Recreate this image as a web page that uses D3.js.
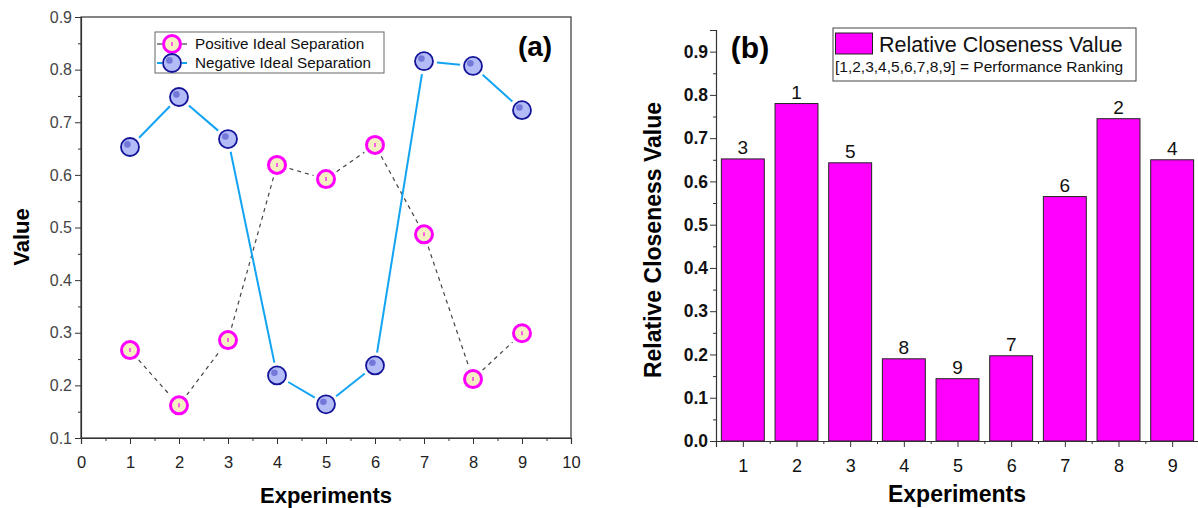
<!DOCTYPE html>
<html><head><meta charset="utf-8">
<script src="https://cdn.jsdelivr.net/npm/d3@7"></script>
<style>
body{margin:0;background:#fff;}
svg{display:block;font-family:"Liberation Sans",Arial,sans-serif;}
</style></head>
<body><svg id="c" width="1198" height="508"></svg>
<script>
// ---- data ----
const experiments = [1,2,3,4,5,6,7,8,9];
const positiveSep = [0.267,0.162,0.286,0.619,0.592,0.657,0.487,0.212,0.299];
const negativeSep = [0.653,0.748,0.668,0.219,0.164,0.238,0.816,0.807,0.723];
const closeness = [0.652,0.780,0.643,0.190,0.144,0.197,0.565,0.745,0.650];
const ranking = [3,1,5,8,9,7,6,2,4];
const xTicksA = [0,1,2,3,4,5,6,7,8,9,10];
const yTicksA = [0.1,0.2,0.3,0.4,0.5,0.6,0.7,0.8,0.9];
const yTicksB = [0,0.1,0.2,0.3,0.4,0.5,0.6,0.7,0.8,0.9];

const svg = d3.select("#c");
const FF = "Liberation Sans, Arial, sans-serif";

// ================= Panel (a) =================
const A = {l:81, r:571, t:17, b:438};
const xa = d3.scaleLinear().domain([0,10]).range([A.l,A.r]);
const ya = d3.scaleLinear().domain([0.1,0.9]).range([A.b,A.t]);
const ga = svg.append("g");

ga.append("rect").attr("x",A.l).attr("y",A.t).attr("width",A.r-A.l).attr("height",A.b-A.t)
  .attr("fill","none").attr("stroke","#333").attr("stroke-width",1.2);

const xaxA = ga.append("g").attr("transform",`translate(0,${A.b})`)
  .call(d3.axisBottom(xa).tickValues(xTicksA).tickSize(6).tickPadding(12).tickFormat(d3.format("d")));
ga.append("g").attr("transform",`translate(0,${A.b})`)
  .call(d3.axisBottom(xa).tickValues(d3.range(0.5,10,1)).tickSize(3).tickFormat(""))
  .call(g=>g.select(".domain").remove());
const yaxA = ga.append("g").attr("transform",`translate(${A.l},0)`)
  .call(d3.axisLeft(ya).tickValues(yTicksA).tickSize(6).tickPadding(3).tickFormat(d3.format(".1f")));
ga.append("g").attr("transform",`translate(${A.l},0)`)
  .call(d3.axisLeft(ya).tickValues(d3.range(0.15,0.9,0.1)).tickSize(3).tickFormat(""))
  .call(g=>g.select(".domain").remove());
ga.selectAll(".domain").attr("stroke","#333").attr("stroke-width",1.2);
ga.selectAll(".tick line").attr("stroke","#333");
xaxA.selectAll("text").attr("font-size",16.5).attr("fill","#222").attr("font-family",FF);
yaxA.selectAll("text").attr("font-size",16).attr("fill","#444").attr("font-family",FF);

function gappedSegments(xs, ys, gap){
  const segs=[];
  for(let i=0;i<xs.length-1;i++){
    const x1=xs[i],y1=ys[i],x2=xs[i+1],y2=ys[i+1];
    const dx=x2-x1,dy=y2-y1,len=Math.hypot(dx,dy);
    if(len<=2*gap) continue;
    const ux=dx/len,uy=dy/len;
    segs.push([x1+ux*gap,y1+uy*gap,x2-ux*gap,y2-uy*gap]);
  }
  return segs;
}
const px = experiments.map(d=>xa(d));
ga.append("g").selectAll("line").data(gappedSegments(px, positiveSep.map(v=>ya(v)), 13)).join("line")
  .attr("x1",d=>d[0]).attr("y1",d=>d[1]).attr("x2",d=>d[2]).attr("y2",d=>d[3])
  .attr("stroke","#444").attr("stroke-width",1.2).attr("stroke-dasharray","4,4");
ga.append("g").selectAll("line").data(gappedSegments(px, negativeSep.map(v=>ya(v)), 13)).join("line")
  .attr("x1",d=>d[0]).attr("y1",d=>d[1]).attr("x2",d=>d[2]).attr("y2",d=>d[3])
  .attr("stroke","#12a4f2").attr("stroke-width",2);

function posMarker(g,x,y){
  g.append("circle").attr("cx",x).attr("cy",y).attr("r",8.5).attr("fill","#f5f0c2")
    .attr("stroke","#ff00ff").attr("stroke-width",3);
  g.append("line").attr("x1",x).attr("x2",x).attr("y1",y-2).attr("y2",y+2)
    .attr("stroke","#ff00ff").attr("stroke-width",1.2);
}
function negMarker(g,x,y){
  g.append("circle").attr("cx",x).attr("cy",y).attr("r",9).attr("fill","#b4bcf8")
    .attr("stroke","#14149a").attr("stroke-width",1.8);
  g.append("circle").attr("cx",x-2.6).attr("cy",y-2.6).attr("r",3.3).attr("fill","#7478d8");
}
const gm = ga.append("g");
experiments.forEach((e,i)=>posMarker(gm, xa(e), ya(positiveSep[i])));
experiments.forEach((e,i)=>negMarker(gm, xa(e), ya(negativeSep[i])));

const la = ga.append("g");
la.append("rect").attr("x",155).attr("y",32).attr("width",229).attr("height",41)
  .attr("fill","#fff").attr("stroke","#666").attr("stroke-width",1);
const legA = [{t:"Positive Ideal Separation",y:44,type:"p"},{t:"Negative Ideal Separation",y:63,type:"n"}];
legA.forEach(d=>{
  const col = d.type==="p" ? "#444" : "#12a4f2";
  const sw = d.type==="p" ? 1.2 : 2;
  la.append("line").attr("x1",157).attr("x2",162).attr("y1",d.y).attr("y2",d.y).attr("stroke",col).attr("stroke-width",sw);
  la.append("line").attr("x1",182).attr("x2",187).attr("y1",d.y).attr("y2",d.y).attr("stroke",col).attr("stroke-width",sw);
  if(d.type==="p") posMarker(la,172,d.y); else negMarker(la,172,d.y);
  la.append("text").attr("x",195).attr("y",d.y).attr("dy","0.35em").attr("font-size",15.3).attr("fill","#111").text(d.t);
});

ga.append("text").attr("x",535).attr("y",46).attr("dy","0.35em").attr("text-anchor","middle")
  .attr("font-size",28).attr("font-weight","bold").text("(a)");
ga.append("text").attr("x",326).attr("y",495).attr("dy","0.35em").attr("text-anchor","middle")
  .attr("font-size",22).attr("font-weight","bold").text("Experiments");
ga.append("text").attr("transform","translate(21,237) rotate(-90)").attr("dy","0.35em").attr("text-anchor","middle")
  .attr("font-size",22).attr("font-weight","bold").text("Value");

// ================= Panel (b) =================
const B = {l:716, r:1199, t:30, b:441};
const xb = d3.scaleLinear().domain([0.5,9.5]).range([B.l,B.r]);
const yb = d3.scaleLinear().domain([0,0.95]).range([B.b,B.t]);
const gb = svg.append("g");
const step = xb(2)-xb(1);
const bw = step*0.8;

gb.selectAll("rect.bar").data(experiments).join("rect").attr("class","bar")
  .attr("x",d=>xb(d)-bw/2).attr("width",bw)
  .attr("y",(d,i)=>yb(closeness[i])).attr("height",(d,i)=>yb(0)-yb(closeness[i]))
  .attr("fill","#ff00ff").attr("stroke","#222").attr("stroke-width",1);

gb.selectAll("text.rank").data(experiments).join("text").attr("class","rank")
  .attr("x",d=>xb(d)).attr("y",(d,i)=>yb(closeness[i])-5).attr("text-anchor","middle")
  .attr("font-size",19).attr("fill","#111").text((d,i)=>ranking[i]);

const xaxB = gb.append("g").attr("transform",`translate(0,${B.b})`)
  .call(d3.axisBottom(xb).tickValues(experiments).tickSize(6).tickPadding(12).tickFormat(d3.format("d")));
gb.append("g").attr("transform",`translate(0,${B.b})`)
  .call(d3.axisBottom(xb).tickValues(d3.range(1.5,9.5,1)).tickSize(3).tickFormat(""))
  .call(g=>g.select(".domain").remove());
const yaxB = gb.append("g").attr("transform",`translate(${B.l},0)`)
  .call(d3.axisLeft(yb).tickValues(yTicksB).tickSize(6).tickPadding(2).tickFormat(d3.format(".1f")));
gb.append("g").attr("transform",`translate(${B.l},0)`)
  .call(d3.axisLeft(yb).tickValues(d3.range(0.05,0.95,0.1)).tickSize(3).tickFormat(""))
  .call(g=>g.select(".domain").remove());
gb.selectAll(".domain").attr("stroke","#333").attr("stroke-width",1.2);
gb.selectAll(".tick line").attr("stroke","#333");
xaxB.selectAll("text").attr("font-size",18).attr("fill","#111").attr("font-family",FF);
yaxB.selectAll("text").attr("font-size",17.5).attr("font-weight","bold").attr("fill","#111").attr("font-family",FF);

const lb = gb.append("g");
lb.append("rect").attr("x",833).attr("y",28).attr("width",303).attr("height",53)
  .attr("fill","#fff").attr("stroke","#444").attr("stroke-width",1);
lb.append("rect").attr("x",835.5).attr("y",33).attr("width",37).attr("height",21)
  .attr("fill","#ff00ff").attr("stroke","#222").attr("stroke-width",1);
lb.append("text").attr("x",879).attr("y",44).attr("dy","0.35em").attr("font-size",21.5).attr("fill","#111").text("Relative Closeness Value");
lb.append("text").attr("x",835).attr("y",67).attr("dy","0.35em").attr("font-size",15.5).attr("fill","#111").text("[1,2,3,4,5,6,7,8,9] = Performance Ranking");

gb.append("text").attr("x",750).attr("y",47).attr("dy","0.35em").attr("text-anchor","middle")
  .attr("font-size",30).attr("font-weight","bold").text("(b)");
gb.append("text").attr("x",957).attr("y",494).attr("dy","0.35em").attr("text-anchor","middle")
  .attr("font-size",23).attr("font-weight","bold").text("Experiments");
gb.append("text").attr("transform","translate(653,240) rotate(-90)").attr("dy","0.35em").attr("text-anchor","middle")
  .attr("font-size",23).attr("font-weight","bold").text("Relative Closeness Value");
</script></body></html>
